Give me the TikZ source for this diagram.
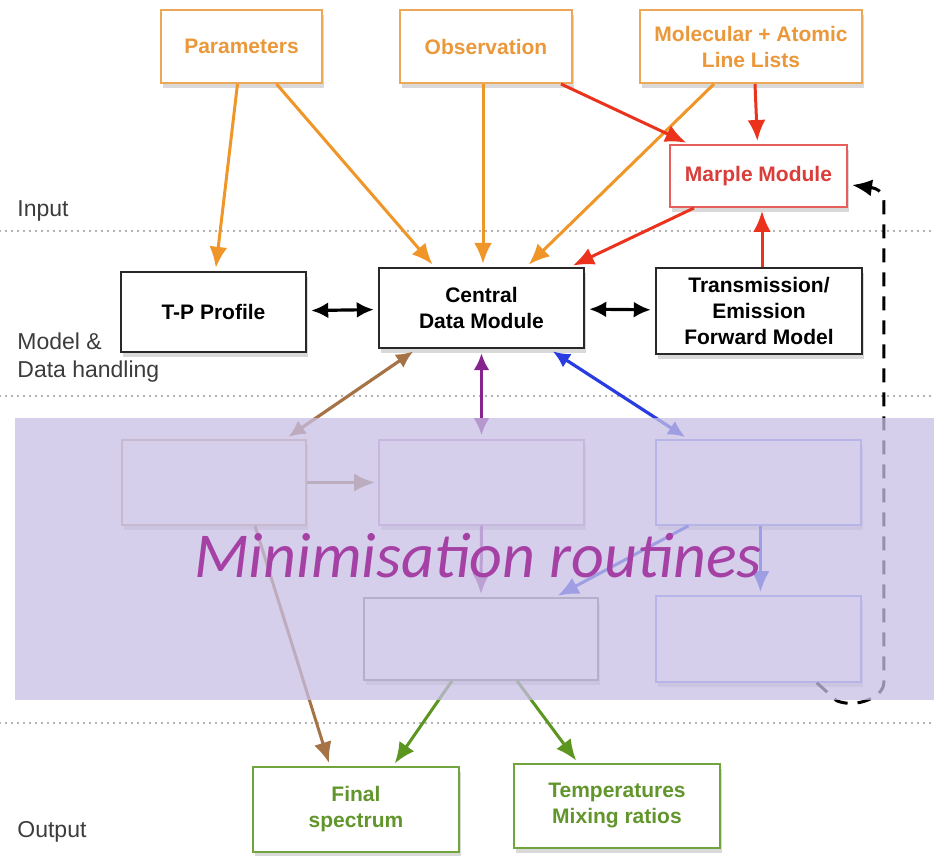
\documentclass[tikz,border=0pt]{standalone}
\usepackage{fontspec}
\setmainfont{Liberation Sans}
\newfontfamily\minifont{Carlito}
\usetikzlibrary{arrows.meta,shadows}

\definecolor{inborder}{RGB}{236,168,88}
\definecolor{intext}{RGB}{234,152,58}
\definecolor{inarrow}{RGB}{240,150,40}
\definecolor{marpleborder}{RGB}{230,95,90}
\definecolor{marpletext}{RGB}{218,62,58}
\definecolor{marplearrow}{RGB}{235,50,28}
\definecolor{modelborder}{RGB}{40,40,40}
\definecolor{outborder}{RGB}{112,165,62}
\definecolor{outtext}{RGB}{98,150,45}
\definecolor{outarrow}{RGB}{92,150,32}
\definecolor{fitbrown}{RGB}{165,115,70}
\definecolor{fitpurple}{RGB}{135,35,140}
\definecolor{fitblue}{RGB}{40,60,225}
\definecolor{bandlilac}{RGB}{199,191,229}
\definecolor{minitext}{RGB}{165,65,165}
\definecolor{labelgray}{RGB}{60,60,60}

\begin{document}
\begin{tikzpicture}[x=0.5pt,y=-0.5pt]

  \path[use as bounding box] (0,0) rectangle (934,856);

  \tikzstyle{box}=[draw,rectangle,fill=white,line width=1pt,inner sep=0pt,align=center,font=\fontsize{10.5}{13}\selectfont\bfseries,drop shadow={shadow xshift=1.2pt,shadow yshift=-2.5pt,opacity=0.3}]
  \tikzstyle{inputbox}=[box,draw=inborder,text=intext]
  \tikzstyle{marplebox}=[box,draw=marpleborder,text=marpletext]
  \tikzstyle{modelbox}=[box,draw=modelborder,line width=1.2pt]
  \tikzstyle{minbox}=[box,line width=0.8pt,minimum width=102.5pt,minimum height=42.5pt]
  \tikzstyle{outputbox}=[box,draw=outborder,text=outtext,minimum width=103pt,minimum height=42.5pt]

  \tikzstyle{sepline}=[draw=gray!80,line width=1.2pt,line cap=round,dash pattern=on 0pt off 3pt]
  \tikzstyle{lablab}=[anchor=base west,inner sep=0pt,text=labelgray,font=\fontsize{11.5}{14}\selectfont]

  \tikzstyle{pointer}=[draw,line width=1.5pt,shorten >=1.5pt,-{Latex[length=10.5pt,width=9pt]}]
  \tikzstyle{dblpointer}=[draw,line width=1.6pt,shorten <=2pt,shorten >=2pt,{Latex[length=8.5pt,width=8pt]}-{Latex[length=8.5pt,width=8pt]}]
  \tikzstyle{feedback}=[draw,line width=1.5pt,dash pattern=on 7pt off 5pt,-{Latex[length=10pt,width=8.5pt]}]

  % layer separators
  \draw[sepline] (0,231) -- (934,231);
  \draw[sepline] (0,396) -- (934,396);
  \draw[sepline] (0,723) -- (934,723);

  \node[lablab] (inlab) at (17,217) {Input};
  \node[lablab] (modlab) at (17,350) {Model \&};
  \node[lablab] (datalab) at (17,378) {Data handling};
  \node[lablab] (outlab) at (17,837) {Output};

  % nodes
  \node[inputbox,minimum width=80.5pt,minimum height=36.5pt] (par) at (241.5,46.5) {Parameters};
  \node[inputbox,minimum width=86pt,minimum height=36.5pt] (obs) at (486,46.5) {Observation};
  \node[inputbox,minimum width=111pt,minimum height=36.5pt] (lines) at (751,46.5) {Molecular + Atomic\\Line Lists};
  \node[marplebox,minimum width=88.5pt,minimum height=31pt] (marple) at (758.5,176) {Marple Module};

  \node[modelbox,minimum width=92.5pt,minimum height=40pt] (tp) at (213.5,312) {T-P Profile};
  \node[modelbox,minimum width=102.5pt,minimum height=40pt] (cdm) at (481.5,308) {Central\\Data Module};
  \node[modelbox,minimum width=103pt,minimum height=43pt] (fwd) at (759,311) {Transmission/\\Emission\\Forward Model};

  \node[minbox,draw=fitbrown!60,minimum width=92pt] (minA) at (214,482.5) {};
  \node[minbox,draw=fitpurple!45] (minB) at (481.5,482.5) {};
  \node[minbox,draw=fitblue!55] (minC) at (758.5,482.5) {};
  \node[minbox,draw=gray,minimum width=117pt,minimum height=41pt] (minD) at (481,639) {};
  \node[minbox,draw=fitblue!55,minimum height=43pt] (minE) at (758.5,639) {};

  \node[outputbox] (spec) at (356,809.5) {Final\\spectrum};
  \node[outputbox,minimum height=42pt] (temps) at (617,806) {Temperatures\\Mixing ratios};

  % input pointers
  \draw[pointer,inarrow] ([shift={(-4,0)}]par.south) -- ([shift={(2,0)}]tp.north);
  \draw[pointer,inarrow] ([shift={(35,0)}]par.south) -- ([shift={(-47,0)}]cdm.north);
  \draw[pointer,inarrow] ([shift={(-3,0)}]obs.south) -- ([shift={(1.5,0)}]cdm.north);
  \draw[pointer,inarrow] ([shift={(-37,0)}]lines.south) -- ([shift={(45,0)}]cdm.north);

  \draw[pointer,marplearrow] ([shift={(-12,0)}]obs.south east) -- ([shift={(20,0)}]marple.north west);
  \draw[pointer,marplearrow] ([shift={(4,0)}]lines.south) -- ([shift={(-1,0)}]marple.north);
  \draw[pointer,marplearrow] ([shift={(25,0)}]marple.south west) -- ([shift={(-15,0)}]cdm.north east);
  \draw[pointer,marplearrow] ([shift={(3,0)}]fwd.north) -- ([shift={(3.5,0)}]marple.south);

  % model pointers
  \draw[dblpointer,black] (tp) -- (cdm);
  \draw[dblpointer,black] (cdm) -- (fwd);

  \draw[dblpointer,fitbrown] ([shift={(-65,0)}]cdm.south) -- ([shift={(71,0)}]minA.north);
  \draw[dblpointer,fitpurple] (cdm.south) -- (minB.north);
  \draw[dblpointer,fitblue] ([shift={(68,0)}]cdm.south) -- ([shift={(-70,0)}]minC.north);

  % minimisation pointers
  \draw[pointer,fitbrown!80!gray] (minA.east) -- (minB.west);
  \draw[pointer,fitpurple!80] (minB.south) -- (minD.north);
  \draw[pointer,fitblue] ([shift={(-70,0)}]minC.south) -- ([shift={(74,0)}]minD.north);
  \draw[pointer,fitblue] ([shift={(2,0)}]minC.south) -- ([shift={(2,0)}]minE.north);

  % output pointers
  \draw[pointer,fitbrown] ([shift={(41,0)}]minA.south) -- ([shift={(-26,0)}]spec.north);
  \draw[pointer,outarrow] ([shift={(-29,0)}]minD.south) -- ([shift={(37,0)}]spec.north);
  \draw[pointer,outarrow] ([shift={(36,0)}]minD.south) -- ([shift={(-39,0)}]temps.north);

  % feedback loop
  \draw[feedback,black] ([shift={(-45,0)}]minE.south east) -- ++(20,18)
    .. controls +(20,8) and +(0,14) .. ++(47,-18) -- ++(0,-482)
    .. controls +(0,-14) and +(14,2) .. ([shift={(4,9)}]marple.east);

  % minimisation band
  \fill[bandlilac,fill opacity=0.75] (15,418) rectangle (934,700);
  \node[anchor=base,inner sep=0pt,text=minitext,font=\minifont\itshape\fontsize{32}{32}\selectfont] (minlab) at (478,578) {Minimisation routines};

\end{tikzpicture}
\end{document}
